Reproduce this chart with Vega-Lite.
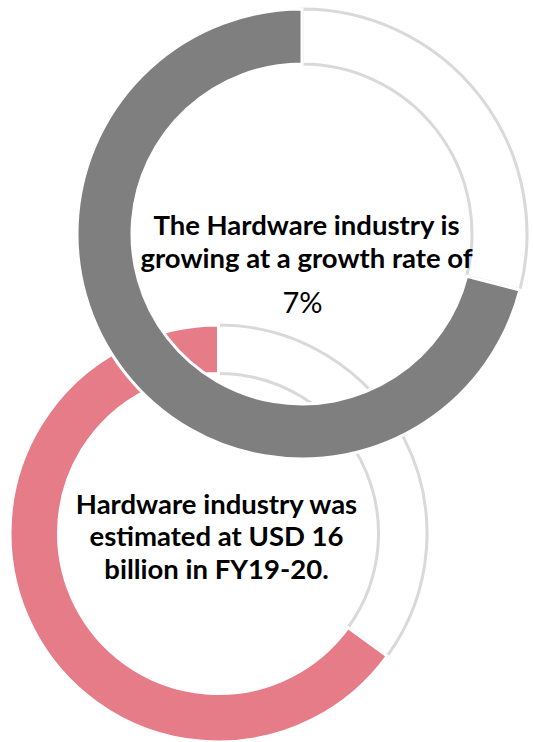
{
  "$schema": "https://vega.github.io/schema/vega-lite/v6.json",
  "width": 533,
  "height": 742,
  "autosize": {"type": "fit", "contains": "padding"},
  "padding": 0,
  "background": "white",
  "config": {"view": {"stroke": null}},
  "datasets": {
    "slices": [
      {"chart": "growth", "slice": "Growth rest", "value": 29, "order": 1},
      {"chart": "growth", "slice": "Growth", "value": 71, "order": 2},
      {"chart": "size", "slice": "Market size rest", "value": 35, "order": 1},
      {"chart": "size", "slice": "Market size", "value": 65, "order": 2}
    ],
    "labels": [
      {"chart": "growth", "text": "The Hardware industry is\ngrowing at a growth rate of", "value": "7%"},
      {"chart": "size", "text": "Hardware industry was\nestimated at USD 16\nbillion in FY19-20.", "value": ""}
    ]
  },
  "encoding": {
    "x": {"field": "chart", "type": "nominal", "scale": {"type": "point", "domain": ["growth", "size"], "range": [302, 218.5], "padding": 0}, "axis": null},
    "y": {"field": "chart", "type": "nominal", "scale": {"type": "point", "domain": ["growth", "size"], "range": [234, 533.5], "padding": 0}, "axis": null}
  },
  "layer": [
    {
      "data": {"name": "slices"},
      "transform": [{"filter": "datum.chart === 'size'"}],
      "mark": {"type": "arc", "radius": 208.5, "radius2": 160, "strokeWidth": 3},
      "encoding": {
        "theta": {"field": "value", "type": "quantitative", "stack": true, "scale": {"domain": [0, 100]}},
        "order": {"field": "order", "type": "quantitative", "sort": "ascending"},
        "fill": {"field": "slice", "type": "nominal", "scale": {"domain": ["Growth", "Growth rest", "Market size", "Market size rest"], "range": ["#7f7f7f", "#ffffff", "#e67c87", "#ffffff"]}, "legend": null},
        "stroke": {"field": "slice", "type": "nominal", "scale": {"domain": ["Growth", "Growth rest", "Market size", "Market size rest"], "range": ["#ffffff", "#d9d9d9", "#ffffff", "#d9d9d9"]}, "legend": null}
      }
    },
    {
      "data": {"name": "slices"},
      "transform": [{"filter": "datum.chart === 'growth'"}],
      "mark": {"type": "arc", "radius": 225, "radius2": 170, "strokeWidth": 3},
      "encoding": {
        "theta": {"field": "value", "type": "quantitative", "stack": true, "scale": {"domain": [0, 100]}},
        "order": {"field": "order", "type": "quantitative", "sort": "ascending"},
        "fill": {"field": "slice", "type": "nominal", "legend": null},
        "stroke": {"field": "slice", "type": "nominal", "legend": null}
      }
    },
    {
      "data": {"name": "labels"},
      "transform": [{"filter": "datum.chart === 'growth'"}],
      "mark": {"type": "text", "font": "Lato", "fontWeight": "bold", "fontSize": 27.5, "align": "center", "baseline": "alphabetic", "lineBreak": "\n", "lineHeight": 33, "dx": 4.5, "dy": 1, "color": "#000000"},
      "encoding": {"text": {"field": "text", "type": "nominal"}}
    },
    {
      "data": {"name": "labels"},
      "transform": [{"filter": "datum.chart === 'growth'"}],
      "mark": {"type": "text", "font": "Lato", "fontWeight": "normal", "fontSize": 29, "align": "center", "baseline": "alphabetic", "dx": 0.5, "dy": 79, "color": "#000000"},
      "encoding": {"text": {"field": "value", "type": "nominal"}}
    },
    {
      "data": {"name": "labels"},
      "transform": [{"filter": "datum.chart === 'size'"}],
      "mark": {"type": "text", "font": "Lato", "fontWeight": "bold", "fontSize": 27.5, "align": "center", "baseline": "alphabetic", "lineBreak": "\n", "lineHeight": 32.5, "dx": -2, "dy": -20, "color": "#000000"},
      "encoding": {"text": {"field": "text", "type": "nominal"}}
    }
  ]
}
